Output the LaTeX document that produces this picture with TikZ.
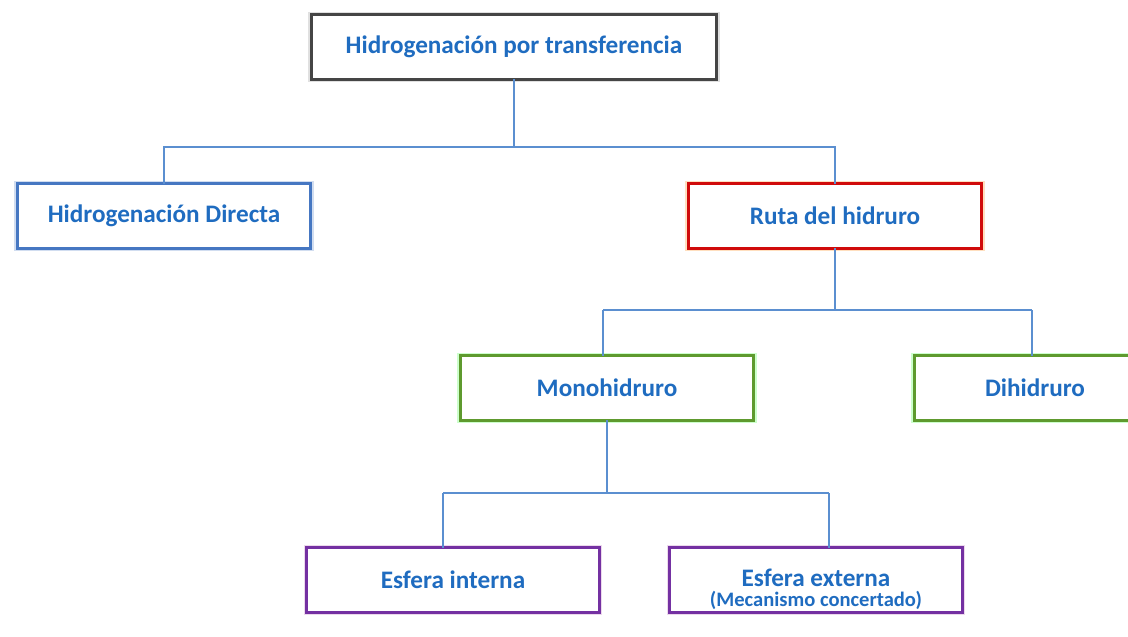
\documentclass[tikz,border=0pt]{standalone}
\usepackage{fontspec}
\setsansfont{Carlito}
\usepackage{tikz}
\usetikzlibrary{positioning, calc}

\definecolor{textoAzul}{HTML}{1F6CC0}
\definecolor{lineaAzul}{HTML}{5B8FD0}
\definecolor{bordeGris}{HTML}{454545}
\definecolor{bordeAzul}{HTML}{4677C2}
\definecolor{bordeRojo}{HTML}{D00A0A}
\definecolor{bordeVerde}{HTML}{5E9A2E}
\definecolor{bordeMorado}{HTML}{7431A2}

\begin{document}
\begin{tikzpicture}[
  x=0.0265cm, y=-0.0265cm,
  font=\sffamily\bfseries,
  caja/.style={
    draw, line width=2.2pt, fill=white, text=textoAzul,
    minimum width=7.75cm, minimum height=1.7cm,
    inner sep=2pt, outer sep=0pt, align=center,
    font=\sffamily\bfseries\fontsize{19}{22}\selectfont
  },
  cajaGris/.style={caja, draw=bordeGris,
    preaction={draw=black!12, line width=4.5pt}},
  cajaAzul/.style={caja, draw=bordeAzul,
    preaction={draw=bordeAzul!25, line width=5pt}},
  cajaRoja/.style={caja, draw=bordeRojo,
    preaction={draw=orange!25, line width=5pt}},
  cajaVerde/.style={caja, draw=bordeVerde,
    preaction={draw=green!20, line width=5pt}},
  cajaMorada/.style={caja, draw=bordeMorado,
    preaction={draw=violet!15, line width=4.5pt}},
  rama/.style={draw=lineaAzul, line width=1pt}
]

\clip (0,0) rectangle (1128,636);
\fill[white] (0,0) rectangle (1128,636);

% nivel 1
\node[cajaGris, minimum width=10.75cm] (hidTrans) at (514,47) {Hidrogenación por transferencia};

% nivel 2
\node[cajaAzul] (hidDirecta) at (164,216) {Hidrogenación Directa};
\node[cajaRoja] (rutaHidruro) at (835,216) {Ruta del hidruro};

% nivel 3
\node[cajaVerde] (monohidruro) at (607,388) {Monohidruro};
\node[cajaVerde, minimum width=6.4cm] (dihidruro) at (1035,388) {Dihidruro};

% nivel 4
\node[cajaMorada] (esfInterna) at (453,580) {Esfera interna};
\node[cajaMorada] (esfExterna) at (816,580) {\rule{0pt}{27pt}Esfera externa\\[-7pt]
  {\fontsize{15.5}{17}\selectfont(Mecanismo concertado)}};

% ramas
\coordinate (nudoA) at (514,147);
\draw[rama] (hidTrans.south) -- (nudoA);
\draw[rama] (hidDirecta.north) |- (nudoA) -| (rutaHidruro.north);

\coordinate (nudoB) at (835,310);
\coordinate (bajaMono) at (603,310);
\coordinate (bajaDi) at (1032,310);
\draw[rama] (rutaHidruro.south) -- (nudoB);
\draw[rama] (bajaMono) -- (bajaDi);
\draw[rama] (bajaMono) -- (bajaMono |- monohidruro.north);
\draw[rama] (bajaDi) -- (bajaDi |- dihidruro.north);

\coordinate (nudoC) at (607,493);
\coordinate (bajaInt) at (443,493);
\coordinate (bajaExt) at (829,493);
\draw[rama] (monohidruro.south) -- (nudoC);
\draw[rama] (bajaInt) -- (bajaExt);
\draw[rama] (bajaInt) -- (bajaInt |- esfInterna.north);
\draw[rama] (bajaExt) -- (bajaExt |- esfExterna.north);
\end{tikzpicture}
\end{document}
